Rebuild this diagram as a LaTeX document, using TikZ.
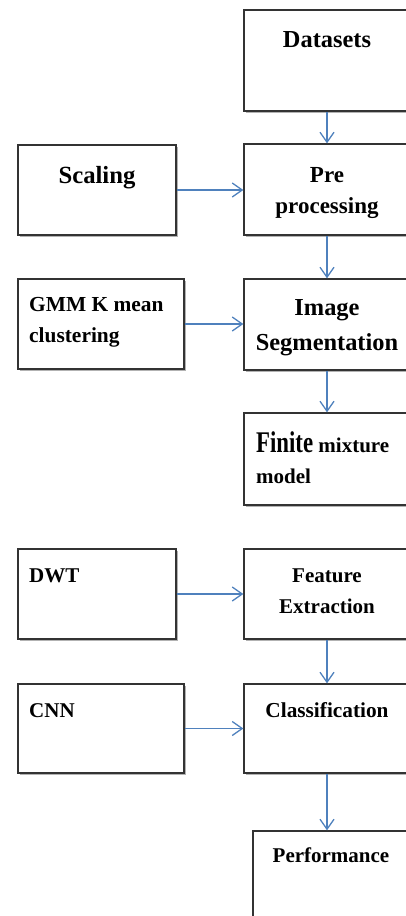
\documentclass[tikz,border=0pt]{standalone}
\usepackage{graphicx}
\usepackage{fontspec}
\setmainfont{Liberation Serif}
\usetikzlibrary{arrows.meta,shadows,calc}
\definecolor{linkblue}{RGB}{79,129,189}

\tikzset{
  box/.style={rectangle, draw=black!80, line width=1.3pt, fill=white,
    drop shadow={shadow xshift=1.8pt, shadow yshift=-1.8pt, fill=black!30, opacity=1}},
  txt/.style={anchor=base, inner sep=0pt, align=center,
    font=\bfseries\fontsize{#1}{31}\selectfont},
  ltxt/.style={txt=#1, anchor=base west, align=left},
  link/.style={->, draw=linkblue, line width=1.3pt}
}

\begin{document}
\begin{tikzpicture}[x=1pt, y=-1pt, >={Straight Barb[length=10pt,width=14pt]}]

\clip (0,0) rectangle (406,916);

% main column
\node[box, minimum width=181pt, minimum height=101pt] at (334.5, 60.5) (data) {};
\node[box, minimum width=181pt, minimum height=91pt] at (334.5, 189.5) (pre) {};
\node[box, minimum width=181pt, minimum height=91pt] at (334.5, 324.5) (seg) {};
\node[box, minimum width=181pt, minimum height=92pt] at (334.5, 459) (fmm) {};
\node[box, minimum width=181pt, minimum height=90pt] at (334.5, 594) (feat) {};
\node[box, minimum width=181pt, minimum height=89pt] at (334.5, 728.5) (cls) {};
\node[box, minimum width=172pt, minimum height=114pt] at (339, 888) (perf) {};

% side inputs
\node[box, minimum width=158pt, minimum height=90pt] at (97, 190) (scal) {};
\node[box, minimum width=166pt, minimum height=90pt] at (101, 324) (gmm) {};
\node[box, minimum width=158pt, minimum height=90pt] at (97, 594) (dwt) {};
\node[box, minimum width=166pt, minimum height=89pt] at (101, 728.5) (cnn) {};

% texts (multi-line ones sit on the baseline of their last line)
\node[txt=24.4] at (327, 47) (dataT) {Datasets};
\node[txt=23] at (327, 213) (preT) {Pre\\processing};
\node[txt=24.4] at (327, 350) (segT) {Image\\[4pt]Segmentation};
\node[ltxt=21] at (256, 483) (fmmT) {\scalebox{0.76}[1]{\fontsize{30}{31}\selectfont Finite} mixture\\model};
\node[txt=21] at (327, 613) (featT) {Feature\\Extraction};
\node[txt=21.3] at (327, 717) (clsT) {Classification};
\node[txt=21] at (331, 862) (perfT) {Performance};

\node[txt=24.7] at (97, 183) (scalT) {Scaling};
\node[ltxt=21.4] at (29, 342) (gmmT) {GMM K mean\\clustering};
\node[ltxt=21] at (29, 582) (dwtT) {DWT};
\node[ltxt=21] at (29, 717) (cnnT) {CNN};

% arrows
\draw[link] ([xshift=-7.5pt]data.south) -- ([xshift=-7.5pt]pre.north);
\draw[link] ([xshift=-7.5pt]pre.south) -- ([xshift=-7.5pt]seg.north);
\draw[link] ([xshift=-7.5pt]seg.south) -- ([xshift=-7.5pt]fmm.north);
\draw[link] ([xshift=-7.5pt]feat.south) -- ([xshift=-7.5pt]cls.north);
\draw[link] ([xshift=-7.5pt]cls.south) -- ([xshift=-7.5pt]cls.south |- perf.north);

\draw[link] (scal) -- (scal -| pre.west);
\draw[link] (gmm) -- (gmm -| seg.west);
\draw[link] (dwt) -- (dwt -| feat.west);
\draw[link] (cnn) -- (cnn -| cls.west);

\end{tikzpicture}
\end{document}
